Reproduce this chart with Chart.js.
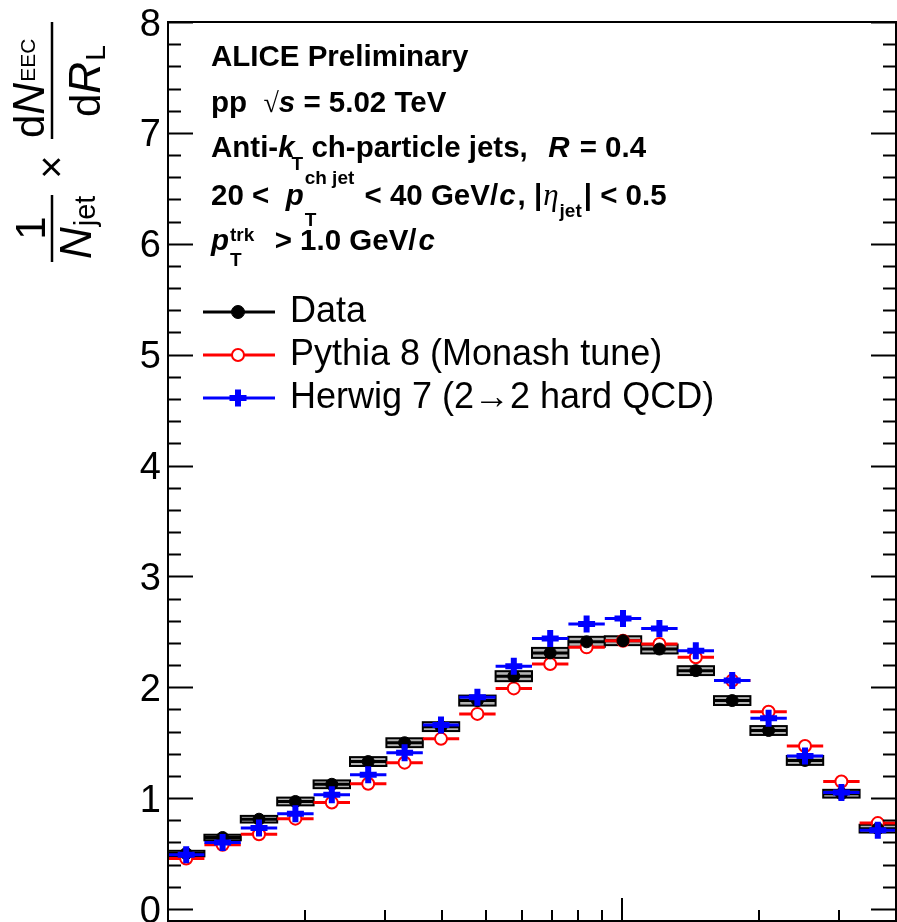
<!DOCTYPE html>
<html>
<head>
<meta charset="utf-8">
<script src="https://cdn.jsdelivr.net/npm/chart.js@4.4.0/dist/chart.umd.min.js"></script>
<style>
  html, body { margin: 0; padding: 0; background: #fff; overflow: hidden; }
  #wrap { width: 897px; height: 922px; }
  canvas { display: block; }
</style>
</head>
<body>
<div id="wrap"><canvas id="eecChart" width="897" height="922"></canvas></div>
<script>
// R_L bin edges (20 log bins, 0.01 - 0.4)
const binEdges = [0.01, 0.0120255, 0.0144613, 0.0173904, 0.0209129, 0.0251488, 0.0302427,
    0.0363684, 0.0437348, 0.0525933, 0.0632456, 0.0760561, 0.0914613, 0.109987, 0.132265,
    0.159056, 0.191272, 0.230014, 0.276603, 0.332628, 0.4];
const dataValues = [0.50, 0.645, 0.81, 0.97, 1.125, 1.33, 1.50, 1.645, 1.88, 2.10,
    2.31, 2.41, 2.42, 2.345, 2.15, 1.88, 1.61, 1.34, 1.04, 0.725];
const dataSys = [0.025, 0.025, 0.03, 0.035, 0.035, 0.04, 0.04, 0.04, 0.045, 0.045,
    0.045, 0.045, 0.04, 0.04, 0.04, 0.04, 0.04, 0.04, 0.035, 0.035];
const pythiaValues = [0.455, 0.58, 0.675, 0.815, 0.96, 1.13, 1.32, 1.535, 1.76, 1.99,
    2.21, 2.36, 2.42, 2.39, 2.27, 2.06, 1.78, 1.47, 1.15, 0.775];
const herwigValues = [0.49, 0.60, 0.73, 0.86, 1.03, 1.21, 1.41, 1.66, 1.91, 2.19,
    2.44, 2.57, 2.62, 2.53, 2.33, 2.06, 1.72, 1.38, 1.05, 0.71];
const yTickLabels = [0, 1, 2, 3, 4, 5, 6, 7, 8];
const xMajorTicks = [0.1];
const xMinorTicks = [0.02, 0.03, 0.04, 0.05, 0.06, 0.07, 0.08, 0.09, 0.2, 0.3];

const FONT = '"Liberation Sans", Arial, Helvetica, sans-serif';
const SERIF = '"Liberation Serif", "DejaVu Serif", serif';

const centers = dataValues.map((v, i) => Math.sqrt(binEdges[i] * binEdges[i + 1]));

function barSegments(values) {
    let pts = [];
    values.forEach((v, i) => {
        pts.push({x: binEdges[i], y: v});
        pts.push({x: binEdges[i + 1], y: v});
        pts.push({x: binEdges[i + 1], y: null});
    });
    return pts;
}
function markerPoints(values) {
    return values.map((v, i) => ({x: centers[i], y: v}));
}

const legendItems = [
    {label: "Data", color: "#000", fill: "#000", style: {pointStyle: "circle", radius: 6.5, borderWidth: 1}},
    {label: "Pythia 8 (Monash tune)", color: "#ff0000", fill: "#fff", style: {pointStyle: "circle", radius: 6, borderWidth: 2}},
    {label: "Herwig 7 (2\u21922 hard QCD)", color: "#0000ff", fill: "#0000ff", style: {pointStyle: "cross", radius: 8.5, borderWidth: 6}}
];

// runs: {t, font, dx} or {sup, sub, supDy, subDy, font, dx}
function drawRich(ctx, x, y, runs) {
    runs.forEach(r => {
        ctx.font = r.font;
        x += r.dx || 0;
        if (r.sup !== undefined || r.sub !== undefined) {
            let w = 0;
            if (r.sup) { ctx.fillText(r.sup, x, y + r.supDy); w = Math.max(w, ctx.measureText(r.sup).width); }
            if (r.sub) { ctx.fillText(r.sub, x, y + r.subDy); w = Math.max(w, ctx.measureText(r.sub).width); }
            x += w;
        } else {
            ctx.fillText(r.t, x, y);
            x += ctx.measureText(r.t).width;
        }
    });
}

function drawYTitle(ctx) {
    ctx.save();
    ctx.translate(52, 0);
    ctx.rotate(-Math.PI / 2);
    // u = -screenY, v = screenX - 52
    ctx.fillStyle = "#000";
    ctx.strokeStyle = "#000";
    ctx.lineWidth = 2.5;
    ctx.textBaseline = "alphabetic";
    // 1 / N_jet
    ctx.beginPath(); ctx.moveTo(-262, 0); ctx.lineTo(-195, 0); ctx.stroke();
    ctx.textAlign = "center";
    ctx.font = `42px ${FONT}`;
    ctx.fillText("1", -228, -7);
    ctx.textAlign = "left";
    ctx.font = `italic 44px ${FONT}`;
    ctx.fillText("N", -259, 39);
    let wN = ctx.measureText("N").width;
    ctx.font = `29px ${FONT}`;
    ctx.fillText("jet", -259 + wN + 1, 43);
    // times
    ctx.textAlign = "center";
    ctx.font = `40px ${FONT}`;
    ctx.fillText("\u00d7", -167, 13);
    // dN_EEC / dR_L
    ctx.textAlign = "left";
    ctx.beginPath(); ctx.moveTo(-139, 0); ctx.lineTo(-22, 0); ctx.stroke();
    let u = -138;
    ctx.font = `42px ${FONT}`;
    ctx.fillText("d", u, -8);
    u += ctx.measureText("d").width;
    ctx.font = `italic 44px ${FONT}`;
    ctx.fillText("N", u, -8);
    u += ctx.measureText("N").width + 1;
    ctx.font = `21px ${FONT}`;
    ctx.fillText("EEC", u, -17);
    u = -117;
    ctx.font = `42px ${FONT}`;
    ctx.fillText("d", u, 48);
    u += ctx.measureText("d").width;
    ctx.font = `italic 44px ${FONT}`;
    ctx.fillText("R", u, 48);
    u += ctx.measureText("R").width + 1;
    ctx.font = `28px ${FONT}`;
    ctx.fillText("L", u, 53);
    ctx.restore();
}

const rootStyle = {
    id: "rootStyle",
    beforeDatasetsDraw(chart) {
        const ctx = chart.ctx, xs = chart.scales.x, ys = chart.scales.y;
        ctx.save();
        dataValues.forEach((v, i) => {
            const x0 = xs.getPixelForValue(binEdges[i]);
            const x1 = xs.getPixelForValue(binEdges[i + 1]);
            const yt = ys.getPixelForValue(v + dataSys[i]);
            const yb = ys.getPixelForValue(v - dataSys[i]);
            ctx.fillStyle = "#b4b4b4";
            ctx.fillRect(x0, yt, x1 - x0, yb - yt);
            ctx.strokeStyle = "#000";
            ctx.lineWidth = 2;
            ctx.strokeRect(x0, yt, x1 - x0, yb - yt);
        });
        ctx.restore();
    },
    afterDraw(chart) {
        const ctx = chart.ctx, ca = chart.chartArea, xs = chart.scales.x, ys = chart.scales.y;
        ctx.save();
        ctx.strokeStyle = "#000";
        ctx.fillStyle = "#000";
        // frame
        ctx.lineWidth = 2;
        ctx.strokeRect(ca.left, ca.top, ca.right - ca.left, ca.bottom - ca.top);
        // y ticks (left and right, pointing inward)
        for (let k = 0; k <= 40; k++) {
            const y = Math.round(ys.getPixelForValue(k / 5)) + 0.5;
            const len = k % 5 === 0 ? 25 : 13;
            ctx.beginPath();
            ctx.moveTo(ca.left, y); ctx.lineTo(ca.left + len, y);
            ctx.moveTo(ca.right, y); ctx.lineTo(ca.right - len, y);
            ctx.stroke();
        }
        // x ticks (bottom, pointing up)
        xMinorTicks.forEach(t => {
            const x = Math.round(xs.getPixelForValue(t));
            ctx.beginPath(); ctx.moveTo(x, ca.bottom); ctx.lineTo(x, ca.bottom - 11); ctx.stroke();
        });
        xMajorTicks.forEach(t => {
            const x = Math.round(xs.getPixelForValue(t));
            ctx.beginPath(); ctx.moveTo(x, ca.bottom); ctx.lineTo(x, ca.bottom - 23); ctx.stroke();
        });
        // y tick labels
        ctx.font = `38px ${FONT}`;
        ctx.textAlign = "right";
        ctx.textBaseline = "alphabetic";
        yTickLabels.forEach(v => {
            ctx.fillText(String(v), 161, ys.getPixelForValue(v) + 13.5);
        });
        drawYTitle(ctx);
        // text block
        ctx.textAlign = "left";
        ctx.fillStyle = "#000";
        const B = `bold 29.5px ${FONT}`, BI = `italic bold 29.5px ${FONT}`, S = `bold 19px ${FONT}`;
        const tx = 211;
        drawRich(ctx, tx, 66, [{t: "ALICE Preliminary", font: B}]);
        drawRich(ctx, tx, 112, [{t: "pp  ", font: B}, {t: "\u221a", font: `28px ${SERIF}`},
            {t: "s", font: BI}, {t: " = 5.02 TeV", font: B}]);
        drawRich(ctx, tx, 157, [{t: "Anti-", font: B}, {t: "k", font: BI},
            {sub: "T", subDy: 13, font: S, dx: -3},
            {t: " ch-particle jets,  ", font: B}, {t: "R", font: BI, dx: 4},
            {t: " = 0.4", font: B, dx: 2}]);
        drawRich(ctx, tx, 205, [{t: "20 <  ", font: B}, {t: "p", font: BI},
            {sup: "ch jet", supDy: -21, sub: "T", subDy: 21, font: S, dx: 1},
            {t: " < 40 GeV/", font: B, dx: 2}, {t: "c", font: BI, dx: 1}, {t: ", |", font: B, dx: 2},
            {t: "\u03b7", font: `italic 31px ${SERIF}`, dx: 1}, {sub: "jet", subDy: 12, font: S, dx: 1},
            {t: "| < 0.5", font: B, dx: 2}]);
        drawRich(ctx, tx, 250, [{t: "p", font: BI},
            {sup: "trk", supDy: -9, sub: "T", subDy: 16, font: S, dx: 1},
            {t: "  > 1.0 GeV/", font: B, dx: 4}, {t: "c", font: BI, dx: 2}]);
        // legend
        legendItems.forEach((item, i) => {
            const y = 312 + i * 43;
            ctx.strokeStyle = item.color;
            ctx.lineWidth = 3;
            ctx.beginPath(); ctx.moveTo(203, y); ctx.lineTo(275, y); ctx.stroke();
            ctx.fillStyle = item.fill;
            ctx.lineWidth = item.style.borderWidth;
            Chart.helpers.drawPoint(ctx, Object.assign({rotation: 0}, item.style), 238, y);
            ctx.fillStyle = "#000";
            ctx.font = `36px ${FONT}`;
            ctx.fillText(item.label, 290, y + 10);
        });
        ctx.restore();
    }
};

new Chart("eecChart", {
    type: "scatter",
    data: {
        datasets: [
            {label: "Data bars", data: barSegments(dataValues), showLine: true, spanGaps: false,
                borderColor: "#000", borderWidth: 3, pointRadius: 0, order: 5},
            {label: "Pythia bars", data: barSegments(pythiaValues), showLine: true, spanGaps: false,
                borderColor: "#ff0000", borderWidth: 3, pointRadius: 0, order: 4},
            {label: "Pythia 8 (Monash tune)", data: markerPoints(pythiaValues), pointStyle: "circle",
                pointRadius: 6, pointBorderWidth: 2, pointBorderColor: "#ff0000",
                pointBackgroundColor: "#fff", order: 3},
            {label: "Data", data: markerPoints(dataValues), pointStyle: "circle",
                pointRadius: 6, pointBorderWidth: 1, pointBorderColor: "#000",
                pointBackgroundColor: "#000", order: 2},
            {label: "Herwig bars", data: barSegments(herwigValues), showLine: true, spanGaps: false,
                borderColor: "#0000ff", borderWidth: 3, pointRadius: 0, order: 1},
            {label: "Herwig 7 (2\u21922 hard QCD)", data: markerPoints(herwigValues), pointStyle: "cross",
                pointRadius: 8.5, pointBorderWidth: 6, pointBorderColor: "#0000ff",
                pointBackgroundColor: "#0000ff", order: 0}
        ]
    },
    options: {
        responsive: false,
        animation: false,
        devicePixelRatio: 1,
        events: [],
        layout: {autoPadding: false, padding: {left: 168, top: 22, right: 1, bottom: 1}},
        plugins: {legend: {display: false}, tooltip: {enabled: false}},
        scales: {
            x: {type: "logarithmic", min: 0.01, max: 0.4, display: false},
            y: {type: "linear", min: -0.108, max: 8, display: false}
        }
    },
    plugins: [rootStyle]
});
</script>
</body>
</html>
